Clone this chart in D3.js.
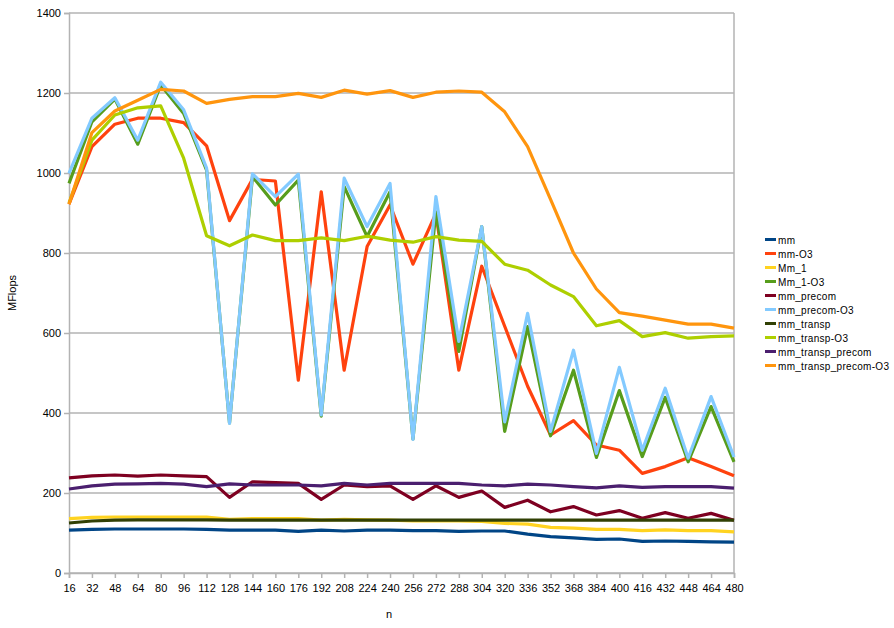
<!DOCTYPE html>
<html>
<head>
<meta charset="utf-8">
<script src="https://cdn.jsdelivr.net/npm/d3@7/dist/d3.min.js"></script>
<style>
  body { margin: 0; background: #fff; }
  text { font-family: "Liberation Sans", Arial, sans-serif; fill: #000; }
</style>
</head>
<body>
<div class="chart"></div>
<script>
// matrix size n
var nValues = [16,32,48,64,80,96,112,128,144,160,176,192,208,224,240,256,272,288,304,320,336,352,368,384,400,416,432,448,464,480];

var yTicks = [0,200,400,600,800,1000,1200,1400];

var seriesNames = ["mm","mm-O3","Mm_1","Mm_1-O3","mm_precom","mm_precom-O3","mm_transp","mm_transp-O3","mm_transp_precom","mm_transp_precom-O3"];
var seriesColors = ["#004586","#ff420e","#ffd320","#579d1c","#7e0021","#83caff","#314004","#aecf00","#4b1f6f","#ff950e"];

var mm               = [107,109,110,110,110,110,109,107,107,107,104,107,105,107,107,106,106,104,105,105,97,91,88,84,85,79,80,79,78,77];
var mmO3             = [922,1066,1122,1137,1137,1126,1068,881,984,980,482,953,507,816,920,772,899,507,767,617,467,345,381,320,307,249,266,288,266,243];
var mm1              = [136,139,140,140,140,140,140,134,136,136,136,132,134,133,132,130,131,130,129,124,122,114,112,109,109,106,108,106,106,103];
var mm1O3            = [974,1128,1185,1072,1220,1149,1007,375,991,920,982,392,966,841,953,335,903,554,866,354,616,343,507,289,456,291,439,278,416,278];
var mmPrecom         = [238,243,245,242,245,243,241,189,228,226,224,184,220,216,218,184,218,189,205,164,182,153,166,145,156,137,151,137,149,132];
var mmPrecomO3       = [999,1137,1188,1082,1227,1158,1012,374,998,941,997,395,987,866,974,334,941,579,866,378,649,354,557,299,514,307,462,287,441,290];
var mmTransp         = [125,130,132,133,133,133,133,132,132,132,132,132,132,132,132,132,132,132,132,132,132,132,132,132,132,132,132,132,132,132];
var mmTranspO3       = [925,1082,1145,1163,1168,1037,843,818,845,831,831,838,831,842,832,827,841,832,829,772,757,720,691,618,631,591,601,587,591,593];
var mmTranspPrecom   = [210,218,222,223,224,222,216,223,220,220,220,218,224,220,224,224,224,224,220,218,222,220,216,213,218,214,216,216,216,212];
var mmTranspPrecomO3 = [922,1101,1155,1182,1209,1205,1174,1184,1191,1191,1199,1189,1207,1197,1206,1189,1202,1205,1202,1153,1066,934,800,710,651,642,632,622,622,612];

var allSeries = [mm, mmO3, mm1, mm1O3, mmPrecom, mmPrecomO3, mmTransp, mmTranspO3, mmTranspPrecom, mmTranspPrecomO3];

var width = 894, height = 628;
var plotLeft = 69, plotRight = 734, plotTop = 13, plotBottom = 573;

var svg = d3.select(".chart")
    .append("svg")
    .attr("width", width)
    .attr("height", height);

var x = d3.scaleLinear().domain([16, 480]).range([plotLeft, plotRight]);
var y = d3.scaleLinear().domain([0, 1400]).range([plotBottom, plotTop]);

// grid
svg.append("g")
    .selectAll("line")
    .data(yTicks)
    .enter()
    .append("line")
    .attr("x1", plotLeft).attr("x2", plotRight)
    .attr("y1", function (d) { return y(d); })
    .attr("y2", function (d) { return y(d); })
    .style("stroke", "#b3b3b3")
    .style("stroke-width", 1.5);

// right border
svg.append("line")
    .attr("x1", plotRight).attr("x2", plotRight)
    .attr("y1", plotTop).attr("y2", plotBottom)
    .style("stroke", "#b3b3b3")
    .style("stroke-width", 1.5);

// axes
var yAxis = svg.append("g")
    .attr("transform", "translate(" + plotLeft + ",0)")
    .call(d3.axisLeft(y).tickValues(yTicks).tickFormat(d3.format("d")).tickSize(5).tickPadding(3));

var xAxis = svg.append("g")
    .attr("transform", "translate(0," + plotBottom + ")")
    .call(d3.axisBottom(x).tickValues(nValues).tickFormat(d3.format("d")).tickSize(5).tickPadding(6));

[yAxis, xAxis].forEach(function (ax) {
    ax.select(".domain").style("stroke", "#b3b3b3").style("stroke-width", 1.5);
    ax.selectAll(".tick line").style("stroke", "#b3b3b3").style("stroke-width", 1.5);
    ax.selectAll(".tick text")
        .style("font-family", "'Liberation Sans', Arial, sans-serif")
        .style("font-size", "11px")
        .style("fill", "#000");
});

// lines
var line = d3.line()
    .x(function (d, i) { return x(nValues[i]); })
    .y(function (d) { return y(d); });

svg.append("g")
    .selectAll("path")
    .data(allSeries)
    .enter()
    .append("path")
    .attr("d", line)
    .attr("fill", "none")
    .style("stroke", function (d, i) { return seriesColors[i]; })
    .style("stroke-width", 3.2)
    .style("stroke-linejoin", "round");

// axis titles
svg.append("text")
    .attr("transform", "translate(16,293) rotate(-90)")
    .attr("text-anchor", "middle")
    .style("font-size", "11px")
    .text("MFlops");

svg.append("text")
    .attr("x", 389)
    .attr("y", 618)
    .attr("text-anchor", "middle")
    .style("font-size", "11px")
    .text("n");

// legend
var legend = svg.append("g")
    .selectAll("g")
    .data(seriesNames)
    .enter()
    .append("g")
    .attr("transform", function (d, i) { return "translate(765," + (240 + i * 14) + ")"; });

legend.append("rect")
    .attr("x", 0).attr("y", -2)
    .attr("width", 11).attr("height", 3)
    .attr("fill", function (d, i) { return seriesColors[i]; });

legend.append("text")
    .attr("x", 13)
    .attr("y", 4)
    .style("font-size", "10px")
    .style("letter-spacing", "0.3px")
    .text(function (d) { return d; });
</script>
</body>
</html>
